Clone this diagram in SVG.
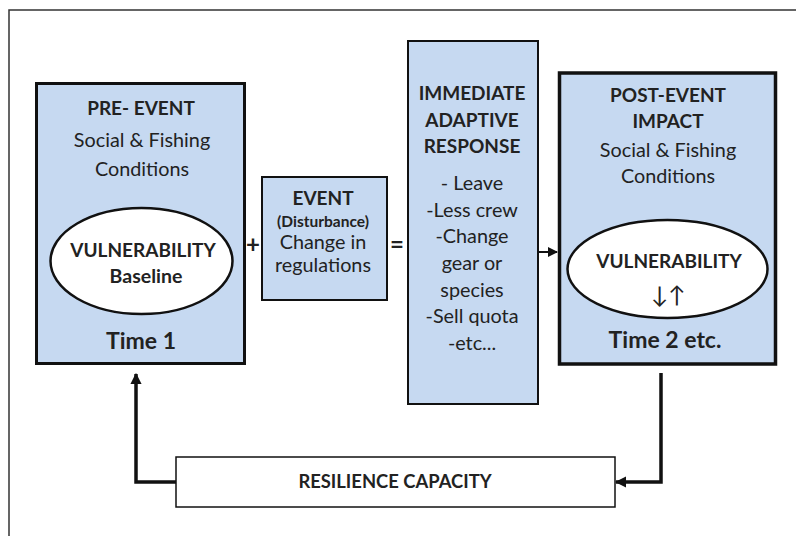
<svg xmlns="http://www.w3.org/2000/svg" width="796" height="536" viewBox="0 0 796 536">
<style>
text{font-family:Lato,"Open Sans","Liberation Sans",sans-serif;fill:#222;text-anchor:middle}
.b{font-weight:bold;font-size:19px}
.n{font-size:19.8px}
.t{font-size:23px;font-weight:bold}
.box{fill:#c6d9f1;stroke:#111}
.ell{fill:#fff;stroke:#111;stroke-width:2.5}
.con{fill:none;stroke:#111;stroke-width:3.5}
</style>
<defs>
<marker id="ah" viewBox="0 0 10 10" refX="9" refY="5" markerWidth="3.2" markerHeight="3.2" orient="auto" markerUnits="strokeWidth">
<path d="M0,0 L10,5 L0,10 z" fill="#111"/>
</marker>
<marker id="ahs" viewBox="0 0 10 10" refX="9" refY="5" markerWidth="5" markerHeight="5" orient="auto" markerUnits="strokeWidth">
<path d="M0,0 L10,5 L0,10 z" fill="#111"/>
</marker>
</defs>
<rect width="796" height="536" fill="#fff"/>
<path d="M9,536 V10 H796" fill="none" stroke="#333" stroke-width="1.5"/>

<g id="pre-event">
<rect class="box" x="36.5" y="83.5" width="208" height="280" stroke-width="3"/>
<text class="b" x="141" y="115">PRE- EVENT</text>
<text class="n" x="142" y="147">Social &amp; Fishing</text>
<text class="n" x="142" y="176">Conditions</text>
<ellipse class="ell" cx="141.5" cy="261" rx="91" ry="53"/>
<text class="b" x="143" y="257">VULNERABILITY</text>
<text class="b" x="146" y="283" style="font-size:19.5px">Baseline</text>
<text class="t" x="141" y="349">Time 1</text>
</g>

<g id="plus"><text x="253" y="253" style="font-size:24px;font-weight:bold">+</text></g>

<g id="event">
<rect class="box" x="262" y="177" width="125" height="123" stroke-width="2"/>
<text class="b" x="323" y="205">EVENT</text>
<text class="b" x="323" y="227" style="font-size:15.5px">(Disturbance)</text>
<text class="n" x="323" y="249">Change in</text>
<text class="n" x="323" y="272">regulations</text>
</g>

<g id="equals"><text x="397" y="253" style="font-size:24px;font-weight:bold">=</text></g>

<g id="response">
<rect class="box" x="408" y="41" width="130" height="363" stroke-width="2"/>
<text class="b" x="472" y="100">IMMEDIATE</text>
<text class="b" x="472" y="127">ADAPTIVE</text>
<text class="b" x="472" y="153">RESPONSE</text>
<text class="n" x="472" y="190">- Leave</text>
<text class="n" x="472" y="217">-Less crew</text>
<text class="n" x="472" y="243">-Change</text>
<text class="n" x="472" y="270">gear or</text>
<text class="n" x="472" y="297">species</text>
<text class="n" x="472" y="323">-Sell quota</text>
<text class="n" x="472" y="350">-etc...</text>
</g>

<g id="post-event">
<rect class="box" x="559.5" y="73" width="216" height="291" stroke-width="3.5"/>
<text class="b" x="668" y="102">POST-EVENT</text>
<text class="b" x="668" y="128">IMPACT</text>
<text class="n" x="668" y="157">Social &amp; Fishing</text>
<text class="n" x="668" y="183">Conditions</text>
<ellipse class="ell" cx="667.5" cy="269" rx="100" ry="49" stroke-width="3"/>
<text class="b" x="669" y="268">VULNERABILITY</text>
<text x="668" y="303" style="font-size:23px">↓↑</text>
<text class="t" x="665" y="348">Time 2 etc.</text>
</g>

<g id="resilience">
<rect x="176" y="457" width="439" height="50" fill="#fff" stroke="#111" stroke-width="1.5"/>
<text class="b" x="395" y="488" style="font-size:18.4px">RESILIENCE CAPACITY</text>
</g>

<g id="connectors">
<line x1="538" y1="252" x2="557" y2="252" stroke="#111" stroke-width="2" marker-end="url(#ahs)"/>
<path class="con" d="M661,373 V482 H616" marker-end="url(#ah)"/>
<path class="con" d="M176,482 H136 V374" marker-end="url(#ah)"/>
</g>
</svg>
